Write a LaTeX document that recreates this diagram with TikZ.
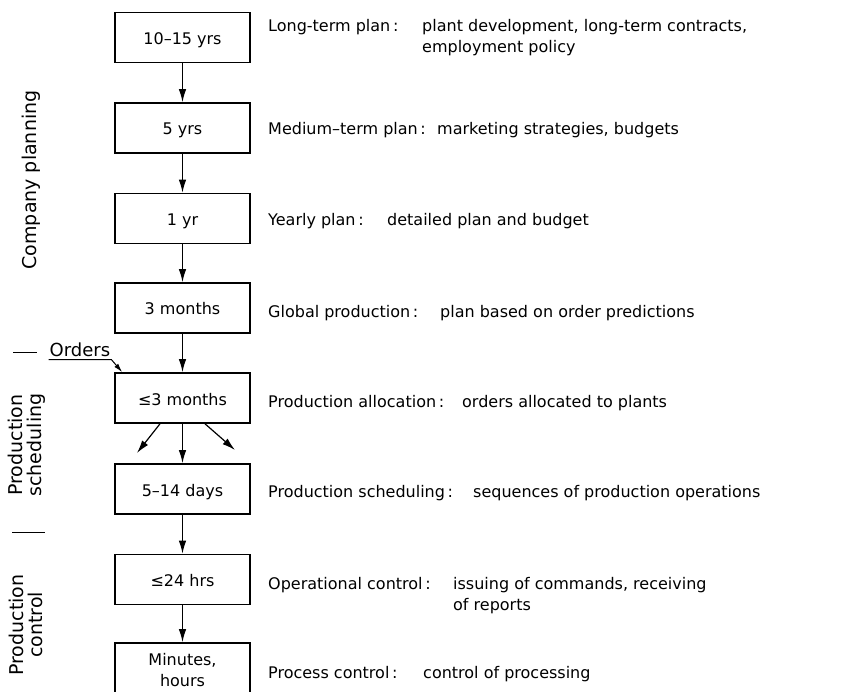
\documentclass[tikz,border=0pt]{standalone}
\usepackage{fontspec}
\setmainfont{DejaVu Sans}
\usetikzlibrary{arrows.meta}

\newcommand{\txtsize}{\fontsize{16}{21}\selectfont}

\begin{document}
\begin{tikzpicture}[x=1pt,y=-1pt,
  stagebox/.style={draw, line width=1.6pt, minimum width=135pt, minimum height=50pt,
    inner sep=0pt, font=\txtsize},
  stage/.style={stagebox, text height=15pt, text depth=1pt},
  flow/.style={-{Latex[length=13pt,width=7.5pt]}, line width=1.2pt},
  feed/.style={-{Latex[length=9pt,width=5pt]}, line width=1pt},
  head/.style={anchor=base west, inner sep=0pt, font=\txtsize},
  body/.style={anchor=base west, inner sep=0pt, font=\txtsize},
  side/.style={rotate=90, align=center, inner sep=0pt, font=\fontsize{19}{19}\selectfont},
  rule/.style={line width=1pt},
]
\useasboundingbox (0,0) rectangle (864,692);
\clip (0,0) rectangle (864,692);

% planning horizon boxes
\node[stage] (b1) at (182.5,37.5) {10--15 yrs};
\node[stage] (b2) at (182.5,128)  {5 yrs};
\node[stage] (b3) at (182.5,218.5){1 yr};
\node[stage] (b4) at (182.5,308)  {3 months};
\node[stage] (b5) at (182.5,398)  {≤3 months};
\node[stage] (b6) at (182.5,489)  {5--14 days};
\node[stage] (b7) at (182.5,579.5){≤24 hrs};
\node[stagebox, minimum height=54pt, align=center] (b8) at (182.5,670) {Minutes,\\hours};

% flow between levels
\draw[flow] (b1) -- (b2);
\draw[flow] (b2) -- (b3);
\draw[flow] (b3) -- (b4);
\draw[flow] (b4) -- (b5);
\draw[flow] (b5) -- (b6);
\draw[flow] (b6) -- (b7);
\draw[flow] (b7) -- (b8);

% allocation to several plants
\coordinate (fanl) at (137,453);
\coordinate (fanr) at (235,450);
\draw[flow] ([xshift=-22.5pt]b5.south) -- (fanl);
\draw[flow] ([xshift=22.5pt]b5.south) -- (fanr);

% incoming orders
\node[inner xsep=1pt, inner ysep=3pt, font=\fontsize{18}{18}\selectfont] (orders) at (80,349.5) {Orders};
\draw[feed] (orders.south west) -- (orders.south east) -- ([xshift=8pt]b5.north west);

% level descriptions
\node[head] (h1) at (268,32)  {Long-term plan\,:};
\node[body] (t1) at (422,32)  {\begin{tabular}[t]{@{}l@{}}plant development, long-term contracts,\\employment policy\end{tabular}};
\node[head] (h2) at (268,135) {Medium--term plan\,:};
\node[body] (t2) at (437,135) {marketing strategies, budgets};
\node[head] (h3) at (268,226) {Yearly plan\,:};
\node[body] (t3) at (387,226) {detailed plan and budget};
\node[head] (h4) at (268,317) {Global production\,:};
\node[body] (t4) at (440,317) {plan based on order predictions};
\node[head] (h5) at (268,407) {Production allocation\,:};
\node[body] (t5) at (462,407) {orders allocated to plants};
\node[head] (h6) at (268,497) {Production scheduling\,:};
\node[body] (t6) at (473,497) {sequences of production operations};
\node[head] (h7) at (268,589) {Operational control\,:};
\node[body] (t7) at (453,589) {\begin{tabular}[t]{@{}l@{}}issuing of commands, receiving\\of reports\end{tabular}};
\node[head] (h8) at (268,678) {Process control\,:};
\node[body] (t8) at (423,678) {control of processing};

% side labels and their separators
\node[side] (s1) at (31,180) {Company planning};
\draw[rule] (13,352) -- (37,352);
\node[side] (s2) at (27,445) {Production\\scheduling};
\draw[rule] (12,532) -- (45,532);
\node[side] (s3) at (26,625) {Production\\control};
\end{tikzpicture}
\end{document}
